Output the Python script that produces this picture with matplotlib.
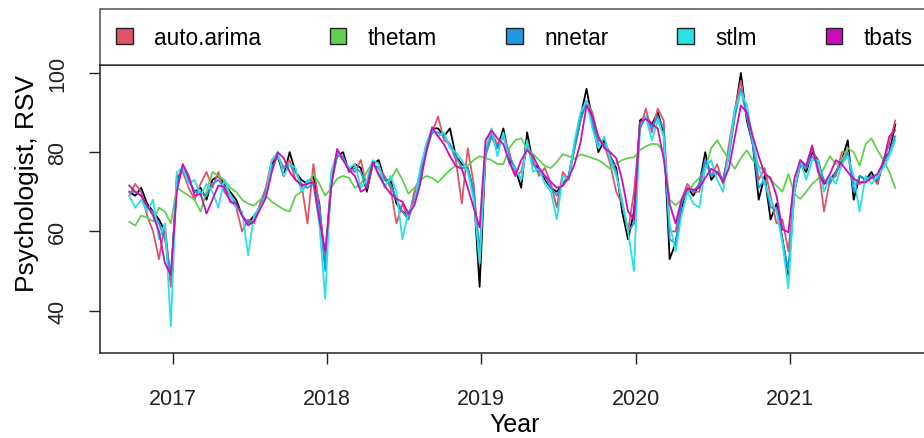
import numpy as np
import matplotlib
matplotlib.use("Agg")
import matplotlib.pyplot as plt
from matplotlib.patches import Patch

plt.rcParams["font.family"] = ["Liberation Sans", "DejaVu Sans"]

# weekly series sampled every two weeks, starting mid-Sept 2016
start = 2016.72
step = 2 / 52

actual = [70, 69, 71, 67, 65, 63, 60, 47, 73, 76, 73, 70, 71, 68, 73, 74, 72, 70, 68, 64,
          62, 64, 66, 70, 77, 79, 74, 80, 75, 73, 72, 74, 67, 51, 73, 79, 80, 75, 77, 76,
          70, 77, 78, 73, 73, 67, 65, 64, 68, 75, 81, 86, 86, 84, 86, 79, 77, 76, 70, 46,
          80, 84, 81, 86, 78, 76, 71, 85, 77, 76, 73, 71, 70, 72, 74, 82, 89, 96, 88, 80,
          83, 79, 76, 65, 58, 65, 88, 89, 87, 90, 85, 53, 57, 66, 71, 69, 72, 80, 73, 75,
          73, 80, 90, 100, 88, 82, 68, 74, 63, 67, 58, 49, 70, 77, 75, 80, 78, 72, 73, 75,
          78, 83, 68, 74, 73, 75, 72, 78, 80, 87]

auto_arima = [69, 72, 70, 64, 60, 53, 62, 46, 74, 75, 71, 68, 72, 75, 71, 75, 70, 68, 66, 60,
              63, 62, 67, 71, 78, 79, 76, 78, 73, 72, 62, 77, 66, 53, 74, 80, 78, 76, 75, 78,
              71, 77, 76, 74, 71, 62, 67, 63, 70, 74, 82, 85, 89, 83, 82, 78, 67, 81, 72, 52,
              80, 85, 82, 84, 80, 74, 75, 82, 78, 74, 76, 72, 66, 75, 73, 81, 88, 93, 90, 83,
              82, 77, 70, 67, 60, 70, 86, 91, 85, 91, 88, 60, 60, 68, 72, 70, 70, 78, 74, 77,
              72, 82, 91, 98, 89, 83, 73, 76, 69, 62, 63, 55, 70, 78, 76, 81, 77, 65, 73, 74,
              80, 80, 72, 72, 73, 74, 72, 78, 82, 88]

thetam = [62.4, 61.5, 64, 63.5, 62.5, 66, 65, 62, 71, 70, 69, 68, 65, 70, 75, 74, 73, 71, 70, 68,
          67, 66.5, 68, 69, 67.5, 66.5, 65.5, 65, 69, 70, 72, 74.5, 72, 69, 71, 73.3, 74, 73.5, 71, 72,
          75, 77.5, 74, 71.6, 73, 75.8, 73, 69.5, 71, 73, 74, 73.5, 72.4, 74, 75.5, 76.6, 76, 76.6, 78, 79,
          78.5, 78, 77, 77, 81, 83, 83.5, 80.8, 79.5, 78, 76.5, 76, 77.5, 79.5, 79, 78.3, 79.5, 79, 78.5, 78,
          77, 75.8, 77.1, 78, 78.5, 78.7, 80.5, 81.5, 82.1, 82, 80, 68, 66.6, 68, 69.5, 72, 73.5, 75.8, 81, 83,
          80.5, 78, 75.8, 78.5, 80.5, 78, 76.5, 75, 73, 71.5, 70, 74.5, 69.5, 68.2, 70, 72, 73.3, 76, 79, 77,
          78, 81, 80, 76.6, 82, 83.5, 80.5, 78, 75, 71]

nnetar = [70, 70, 69, 66, 65, 62, 58, 49, 72, 76, 73, 70, 70, 69, 72, 73, 71, 69, 67, 64,
          62, 63, 66, 70, 76, 79, 76, 77, 75, 72, 71, 72, 66, 50, 72, 79, 79, 75, 76, 75,
          71, 77, 76, 73, 72, 68, 65, 63, 68, 74, 80, 85, 85, 84, 82, 79, 76, 76, 70, 55,
          79, 84, 81, 84, 79, 76, 73, 82, 77, 75, 74, 71, 69, 72, 74, 81, 88, 93, 88, 82,
          82, 79, 75, 67, 60, 62, 86, 89, 86, 89, 86, 58, 57, 67, 71, 70, 72, 78, 74, 75,
          73, 79, 89, 96, 89, 82, 71, 73, 66, 66, 58, 50, 70, 77, 76, 79, 77, 73, 72, 75,
          77, 80, 70, 74, 73, 74, 73, 77, 80, 84]

stlm = [69, 66, 68, 65, 68, 58, 62, 36, 75, 76, 72, 73, 69, 72, 70, 66, 73, 69, 66, 65,
        54, 64, 66, 69, 78, 80, 74, 77, 76, 70, 73, 72, 62, 43, 75, 80, 78, 76, 77, 71,
        73, 78, 77, 71, 74, 70, 58, 65, 67, 76, 82, 86, 84, 85, 81, 80, 78, 75, 68, 52,
        81, 86, 79, 85, 77, 76, 73, 83, 75, 76, 72, 70, 63, 74, 73, 83, 90, 93, 86, 81,
        84, 78, 74, 68, 60, 50, 87, 89, 83, 88, 84, 62, 55, 64, 70, 67, 66, 76, 78, 73,
        70, 80, 91, 95, 92, 83, 76, 72, 68, 65, 57, 45.6, 70, 78, 73, 78, 78, 70, 74, 72,
        77, 79, 74, 65, 74, 72, 74, 76, 79, 83]

tbats = [71.6, 70, 69, 66.6, 64, 60, 52, 49, 70, 77, 74, 69, 69.5, 64.5, 68, 71.6, 71.2, 67.4, 67, 64,
         61.5, 62.5, 65.5, 68.5, 75, 80, 78.5, 75, 73, 71.6, 72, 72.4, 63, 55, 71, 80.8, 78, 75.5, 74, 70,
         71, 77.5, 74.5, 71.5, 69.5, 68.2, 67.5, 64.5, 66.5, 72, 80, 86.3, 84, 82, 79, 76.5, 75.8, 71, 66, 61,
         83, 85.5, 83.5, 82, 77.5, 74, 78, 80.5, 79, 76, 74, 72.5, 71, 71.5, 73.5, 77, 82.5, 91.8, 89, 84,
         81, 80, 78.5, 73, 65, 63, 87.6, 88.4, 87, 86, 78.3, 67, 62, 68, 70.8, 70.5, 71, 73.5, 75.8, 75,
         72.4, 76, 84, 91.8, 90, 84, 79, 74.5, 73.5, 69, 60.5, 59.8, 73.3, 78, 76.6, 81.7, 75, 72, 74.5, 78,
         77, 75, 73.3, 72.4, 72.4, 73.5, 74.5, 77.5, 84, 85.5]

models = ["auto.arima", "thetam", "nnetar", "stlm", "tbats"]
colors = ["#DF536B", "#61D04F", "#2297E6", "#28E2E5", "#CD0BBC"]
year_ticks = [2017, 2018, 2019, 2020, 2021]
y_ticks = [40, 60, 80, 100]

t = start + np.arange(len(actual)) * step

fig = plt.figure(figsize=(9.24, 4.39), dpi=100)
ax = fig.add_axes([0.1082, 0.1936, 0.8972, 0.656])

ax.plot(t, actual, color="black", lw=1.3)
for vals, col in zip([auto_arima, thetam, nnetar, stlm, tbats], colors):
    ax.plot(t, vals, color=col, lw=1.3)

ax.set_xlim(2016.53, 2021.90)
ax.set_ylim(29.3, 102.0)
ax.set_xticks(year_ticks)
ax.set_xticklabels([str(y) for y in year_ticks])
ax.set_yticks(y_ticks)
ax.set_yticklabels([str(v) for v in y_ticks], rotation=90, va="center")
ax.tick_params(direction="out", length=8, width=1, labelsize=15.5, colors="#222222")
ax.tick_params(axis="x", pad=17)
ax.tick_params(axis="y", pad=15)
for s in ax.spines.values():
    s.set_linewidth(1.1)
    s.set_color("#222222")

ax.set_xlabel("Year", fontsize=18)
ax.set_ylabel("Psychologist, RSV", fontsize=19)
ax.xaxis.set_label_coords(0.5, -0.247)
ax.xaxis.label.set_va("center")
ax.yaxis.set_label_coords(-0.088, 0.594)
ax.yaxis.label.set_va("center")

handles = [Patch(facecolor=c, edgecolor="#222222", lw=1) for c in colors]
leg = ax.legend(handles, models, ncol=5, loc="lower left", mode="expand",
                bbox_to_anchor=(0, 1, 1, 0.1), borderaxespad=0, fontsize=16.3,
                handlelength=0.72, handleheight=0.72, handletextpad=0.95,
                borderpad=0.72, fancybox=False, frameon=True)
leg.get_frame().set_edgecolor("#222222")
leg.get_frame().set_linewidth(1.1)

fig.savefig("out.png", dpi=100)
